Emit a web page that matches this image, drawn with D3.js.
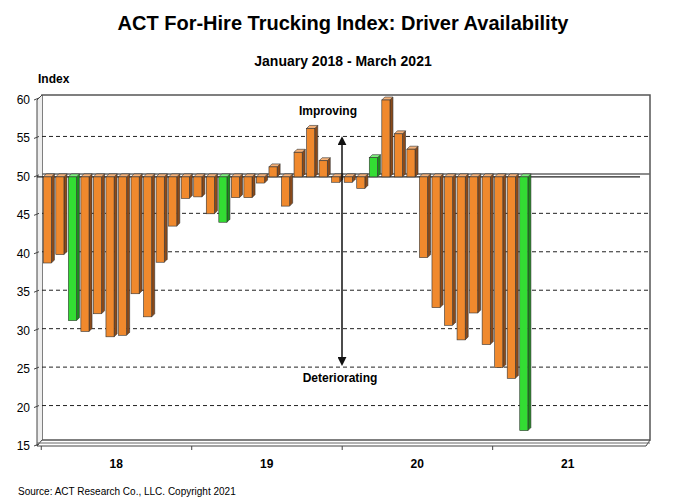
<!DOCTYPE html>
<html><head><meta charset="utf-8">
<script src="https://cdn.jsdelivr.net/npm/d3@7"></script>
<style>body{margin:0;background:#fff}text{font-family:Arial,"Liberation Sans",sans-serif}</style>
</head><body><svg id="c" width="687" height="499"></svg>
<script>
var months=d3.range(48);
var values=[38.8,39.9,31.3,29.9,32.2,29.2,29.4,34.8,31.8,38.9,43.6,47.2,
 47.4,45.2,44.1,47.3,47.3,49.2,51.3,46.2,53.2,56.3,52.1,49.3,
 49.3,48.5,52.5,60.0,55.6,53.6,39.5,33.0,30.7,28.8,32.3,28.2,
 25.2,23.8,17.0];
var yTicks=[15,20,25,30,35,40,45,50,55,60];
var yearLabels=["18","19","20","21"];

var svg=d3.select("#c");
var x=d3.scaleBand().domain(months).range([42,642]).paddingInner(0.35).paddingOuter(0.1);
var y=d3.scaleLinear().domain([15,60]).range([446,100]);
var L=42,R=650,T=95,B=440,dx=3,dy=-3;

svg.append("text").attr("x",343).attr("y",30).attr("text-anchor","middle").attr("font-size",20).attr("font-weight","bold").text("ACT For-Hire Trucking Index: Driver Availability");
svg.append("text").attr("x",343).attr("y",66).attr("text-anchor","middle").attr("font-size",14).attr("font-weight","bold").text("January 2018 - March 2021");
svg.append("text").attr("x",38).attr("y",83).attr("font-size",12).attr("font-weight","bold").text("Index");
svg.append("text").attr("x",18).attr("y",495).attr("font-size",10).text("Source: ACT Research Co., LLC. Copyright 2021");

// walls
svg.append("rect").attr("x",L).attr("y",T).attr("width",R-L).attr("height",B-T).attr("fill","#fff").attr("stroke","#555").attr("stroke-width",1.5);
svg.append("path").attr("d","M"+L+","+T+"L"+(L-5)+","+(T+5)+"L"+(L-5)+","+(B+6)+"L"+L+","+B).attr("fill","#eee").attr("stroke","#444");
svg.append("path").attr("d","M"+(L-5)+","+(B+6)+"L"+(R-4)+","+(B+6)+"L"+R+","+B).attr("fill","none").attr("stroke","#444");
svg.append("line").attr("x1",L-5).attr("x2",R).attr("y1",B+3).attr("y2",B+3).attr("stroke","#666");

// grid
yTicks.filter(function(t){return t>15&&t<60&&t!=50;}).forEach(function(t){
  svg.append("line").attr("x1",L).attr("x2",R).attr("y1",y(t)-2).attr("y2",y(t)-2).attr("stroke","#222").attr("stroke-dasharray","4,3");
});
svg.append("line").attr("x1",L).attr("x2",R).attr("y1",y(50)-3).attr("y2",y(50)-3).attr("stroke","#666").attr("stroke-width",1.5);
svg.append("line").attr("x1",L-5).attr("x2",640).attr("y1",y(50)).attr("y2",y(50)).attr("stroke","#222").attr("stroke-width",1.2);

// y axis
var ya=svg.append("g");
yTicks.forEach(function(t){
  ya.append("line").attr("x1",L-8).attr("x2",L-3).attr("y1",y(t)).attr("y2",y(t)-2).attr("stroke","#444");
  ya.append("text").attr("x",30).attr("y",y(t)+4).attr("text-anchor","end").attr("font-size",12).text(t);
});
// x labels
yearLabels.forEach(function(l,i){
  var cx=(x(i*12)+x(i*12+11)+x.bandwidth())/2;
  svg.append("text").attr("x",cx).attr("y",468).attr("text-anchor","middle").attr("font-size",12).attr("font-weight","bold").text(l);
  svg.append("line").attr("x1",x(i*12)-2).attr("x2",x(i*12)-2).attr("y1",B+6).attr("y2",B+10).attr("stroke","#444");
});

// bars
var g=svg.append("g");
values.forEach(function(v,i){
  var green=(i%12)==2;
  var front=green?"#33dd33":"#f0892d",side=green?"#1c8c1c":"#8a4a1a",top=green?"#7ff07f":"#f5b27a";
  var x0=x(i),w=x.bandwidth(),y0=y(Math.max(v,50)),y1=y(Math.min(v,50));
  var h=Math.max(y1-y0,1);
  g.append("path").attr("d","M"+(x0+w)+","+y0+"l"+dx+","+dy+"l0,"+h+"l"+(-dx)+","+(-dy)+"z").attr("fill",side).attr("stroke","#333").attr("stroke-width",0.6);
  g.append("path").attr("d","M"+x0+","+y0+"l"+dx+","+dy+"l"+w+",0l"+(-dx)+","+(-dy)+"z").attr("fill",top).attr("stroke","#333").attr("stroke-width",0.6);
  g.append("rect").attr("x",x0).attr("y",y0).attr("width",w).attr("height",h).attr("fill",front).attr("stroke","#333").attr("stroke-width",0.6);
});

// annotation
svg.append("defs").append("marker").attr("id","ah").attr("viewBox","0 0 10 10").attr("refX",5).attr("refY",5).attr("markerWidth",6).attr("markerHeight",6).attr("orient","auto-start-reverse")
  .append("path").attr("d","M0,0L10,5L0,10z").attr("fill","#111");
svg.append("line").attr("x1",342).attr("x2",342).attr("y1",y(54.7)).attr("y2",y(26)).attr("stroke","#111").attr("stroke-width",1.5).attr("marker-start","url(#ah)").attr("marker-end","url(#ah)");
svg.append("text").attr("x",328).attr("y",115).attr("text-anchor","middle").attr("font-size",12).attr("font-weight","bold").text("Improving");
svg.append("text").attr("x",340).attr("y",382).attr("text-anchor","middle").attr("font-size",12).attr("font-weight","bold").text("Deteriorating");
</script></body></html>
